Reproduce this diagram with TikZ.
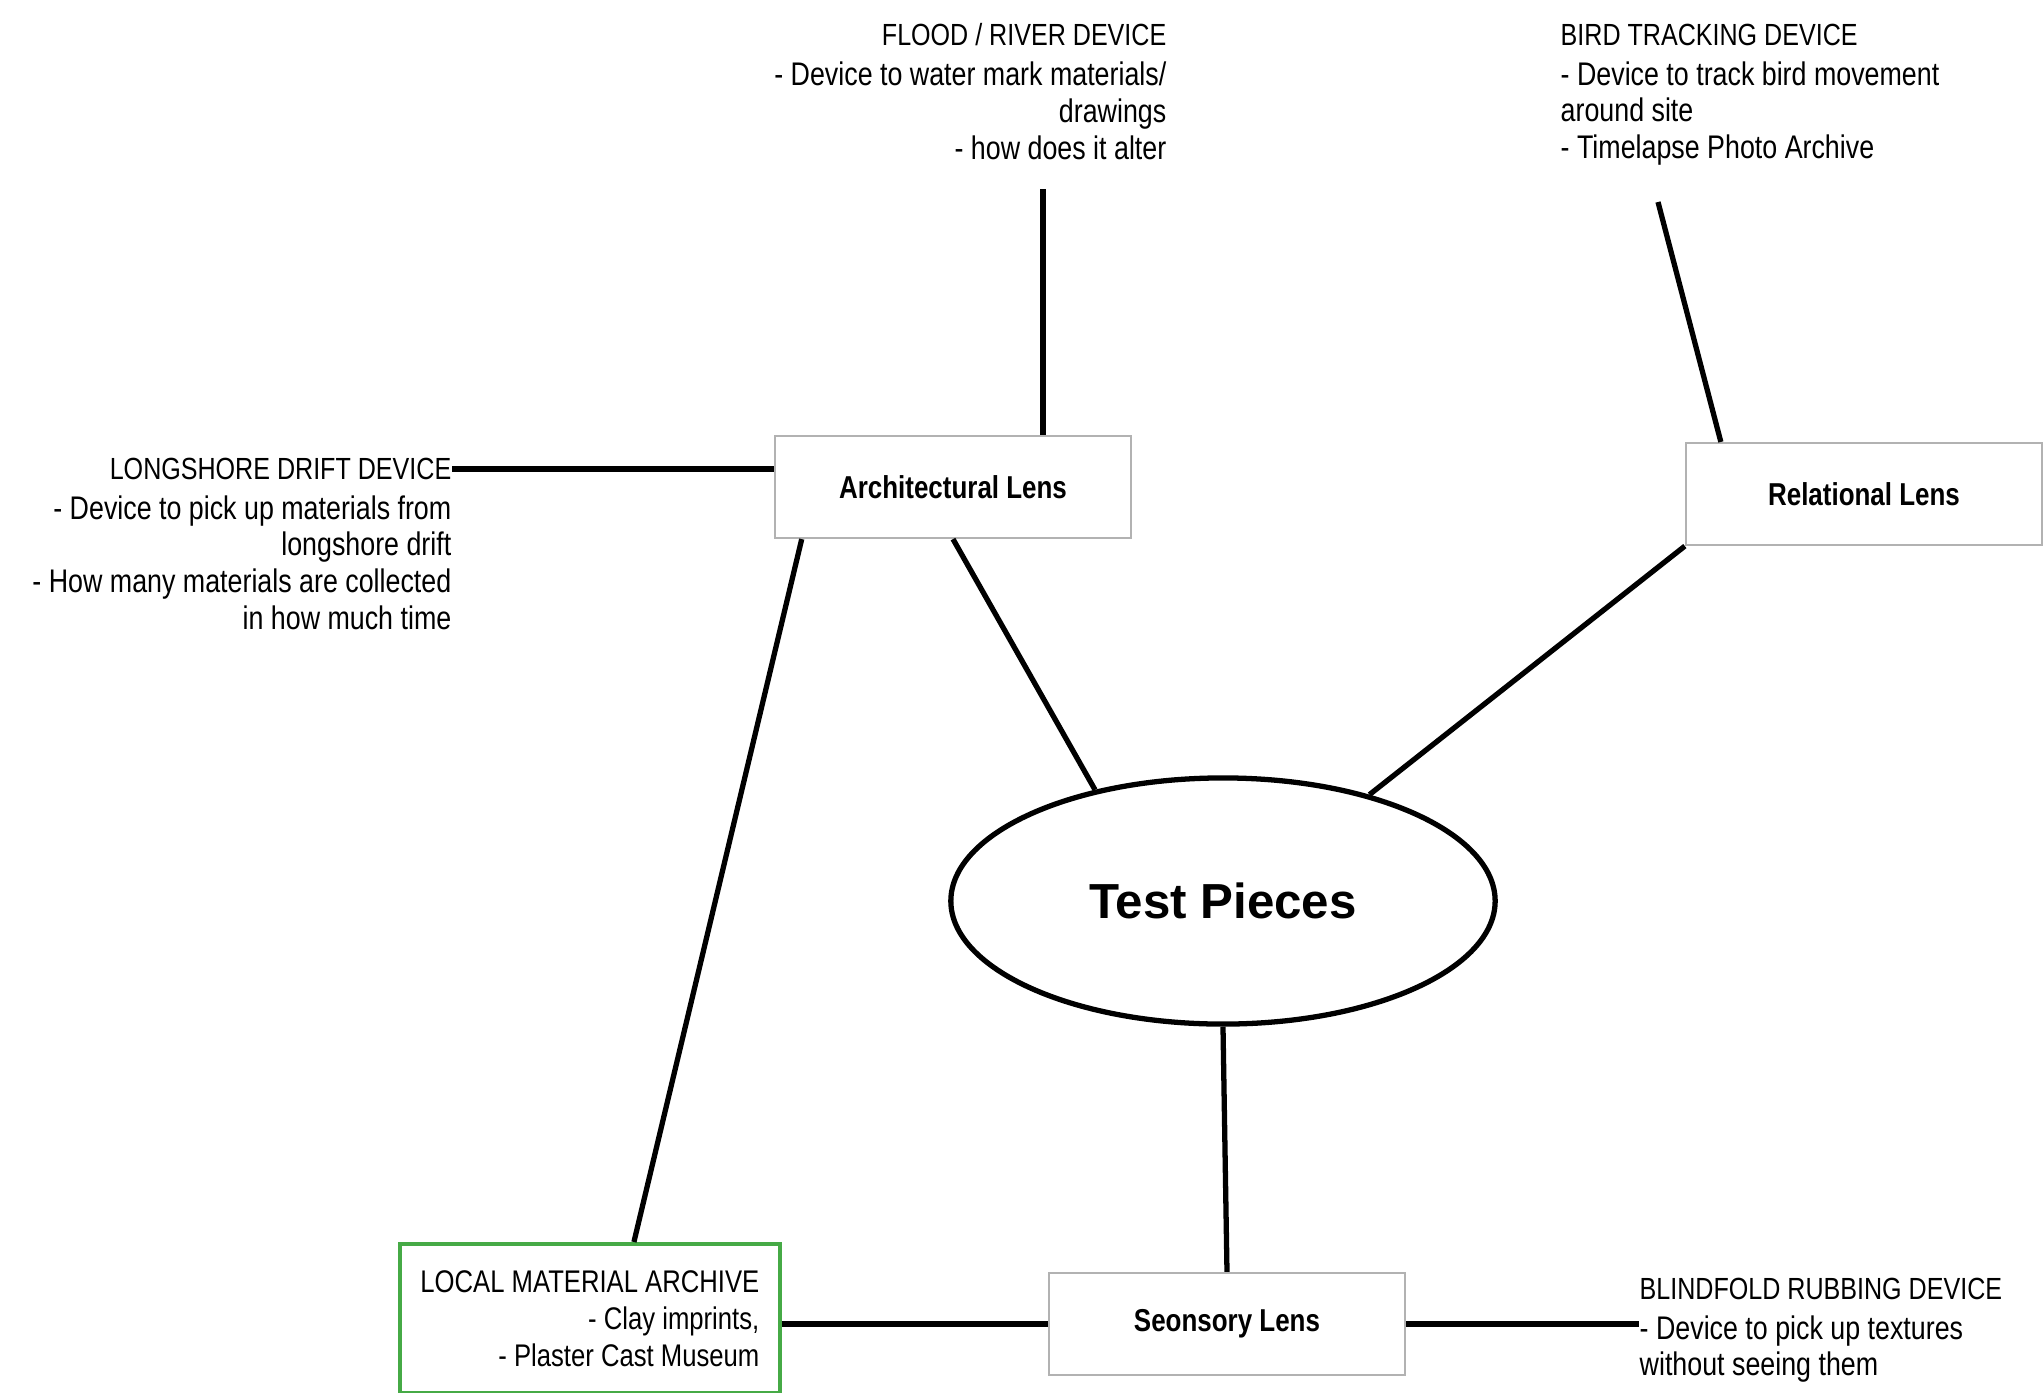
\documentclass[tikz,border=0pt]{standalone}
\usepackage{fontspec}
\setmainfont{Liberation Sans}
\newfontfamily\narrowfont[FakeStretch=0.82]{Liberation Sans}
\usetikzlibrary{positioning,shapes.geometric}
\definecolor{archgreen}{RGB}{70,170,70}
\tikzset{
  lens/.style={draw=gray!60, line width=0.6pt, minimum width=3.56cm, minimum height=1.02cm,
    font=\narrowfont\bfseries\fontsize{9}{10.5}\selectfont},
  note/.style={font=\narrowfont\fontsize{9.3}{10.5}\selectfont, inner sep=0pt},
  notetitle/.style={note, font=\narrowfont\fontsize{8.7}{10.5}\selectfont},
  link/.style={line width=1.5pt},
}
\begin{document}
\begin{tikzpicture}[x=0.01cm, y=-0.01cm]
    \useasboundingbox (0,0) rectangle (2044,1393);

    % Lenses
    \node[lens] (arch) at (953,487) {Architectural Lens};
    \node[lens] (rel) at (1864,494) {Relational Lens};
    \node[lens] (sens) at (1227,1324) {Seonsory Lens};
    \node[ellipse, draw, line width=1.5pt, minimum width=5.44cm, minimum height=2.46cm,
      font=\bfseries\fontsize{14}{16}\selectfont] (test) at (1223,901) {Test Pieces};

    % Archive
    \node[note, font=\narrowfont\fontsize{8.9}{10.5}\selectfont, draw=archgreen, line width=1pt,
      anchor=north west, minimum width=3.8cm, minimum height=1.49cm, align=right] (local) at (398,1242)
      {LOCAL MATERIAL ARCHIVE\\- Clay imprints,\\- Plaster Cast Museum};

    % Devices
    \node[notetitle, anchor=east] (lsd) at (452,469) {LONGSHORE DRIFT DEVICE};
    \node[note, align=right, below=4pt of lsd.south east, anchor=north east] (lsdnote)
      {- Device to pick up materials from\\longshore drift\\- How many materials are collected\\in how much time};

    \node[notetitle, anchor=east] (flood) at (1167,35) {FLOOD / RIVER DEVICE};
    \node[note, align=right, below=4pt of flood.south east, anchor=north east] (floodnote)
      {- Device to water mark materials/\\drawings\\- how does it alter};
    \coordinate (floodtip) at (1043,189);

    \node[notetitle, anchor=west] (bird) at (1560,35) {BIRD TRACKING DEVICE};
    \node[note, align=left, below=4pt of bird.south west, anchor=north west] (birdnote)
      {- Device to track bird movement\\around site\\- Timelapse Photo Archive};
    \coordinate (birdtip) at (1658,202);

    \node[notetitle, anchor=west] (blind) at (1639,1289) {BLINDFOLD RUBBING DEVICE};
    \node[note, align=left, below=4pt of blind.south west, anchor=north west] (blindnote)
      {- Device to pick up textures\\without seeing them};

    % Links
    \draw[link] (lsd.east) -- (lsd.east -| arch.west);
    \draw[link] (floodtip) -- (floodtip |- arch.north);
    \draw[link] (birdtip) -- (rel.160);
    \draw[link] (arch.south) -- (test.139);
    \draw[link] (arch.199) -- (local.60);
    \draw[link] (rel.south west) -- (test.36);
    \draw[link] (test.south) -- (sens.north);
    \draw[link] (local.east |- sens.west) -- (sens.west);
    \draw[link] (sens.east) -- (sens.east -| blindnote.west);
\end{tikzpicture}
\end{document}
